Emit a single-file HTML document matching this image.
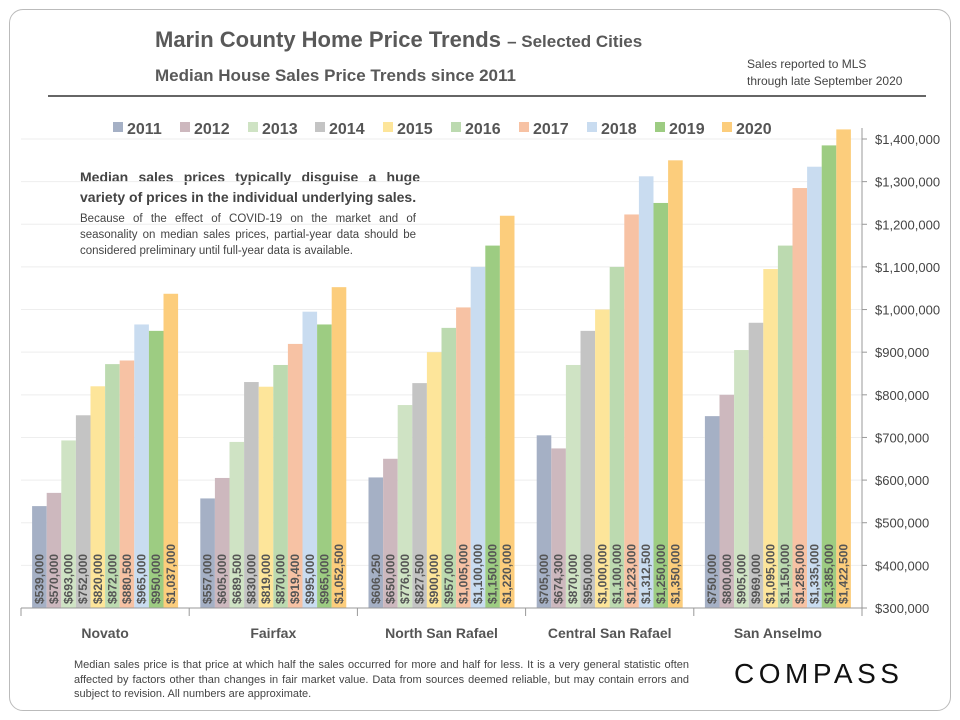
<!DOCTYPE html>
<html><head><meta charset="utf-8"><style>
body{margin:0;background:#fff;font-family:"Liberation Sans",sans-serif}
#frame{position:absolute;left:9px;top:9px;width:940px;height:700px;border:1px solid #bbb;border-radius:14px}
.t{position:absolute;color:#555;white-space:nowrap}
</style></head><body>
<div id="frame"></div>
<div class="t" style="left:155px;top:27px;font-size:22px;font-weight:bold;color:#595959">Marin County Home Price Trends <span style="font-size:17px">– Selected Cities</span></div>
<div class="t" style="left:155px;top:66px;font-size:17px;font-weight:bold;color:#595959">Median House Sales Price Trends since 2011</div>
<div class="t" style="left:747px;top:56px;font-size:12px;line-height:17px;color:#444">Sales reported to MLS<br>through late September 2020</div>
<div style="position:absolute;left:48px;top:95px;width:878px;height:2px;background:#666"></div>
<div class="t" style="left:80px;top:167px;font-size:14px;font-weight:bold;line-height:20px;color:#444;white-space:normal;width:340px;text-align:justify">Median sales prices typically disguise a huge variety of prices in the individual underlying sales.</div>
<div class="t" style="left:80px;top:211px;font-size:11.5px;line-height:16px;color:#444;white-space:normal;width:336px;text-align:justify">Because of the effect of COVID-19 on the market and of seasonality on median sales prices, partial-year data should be considered preliminary until full-year data is available.</div>
<div class="t" style="left:74px;top:658px;font-size:11px;line-height:14.5px;color:#444;white-space:normal;width:615px;text-align:justify">Median sales price is that price at which half the sales occurred for more and half for less. It is a very general statistic often affected by factors other than changes in fair market value. Data from sources deemed reliable, but may contain errors and subject to revision. All numbers are approximate.</div>
<div class="t" style="left:734px;top:658px;font-size:28px;letter-spacing:4.5px;color:#111">COMPASS</div>
<svg id="chart" width="960" height="720" style="position:absolute;left:0;top:0"></svg>
<script>
const cities=["Novato","Fairfax","North San Rafael","Central San Rafael","San Anselmo"];
const years=["2011","2012","2013","2014","2015","2016","2017","2018","2019","2020"];
const novato=[539000,570000,693000,752000,820000,872000,880500,965000,950000,1037000];
const fairfax=[557000,605000,689500,830000,819000,870000,919400,995000,965000,1052500];
const northSanRafael=[606250,650000,776000,827500,900000,957000,1005000,1100000,1150000,1220000];
const centralSanRafael=[705000,674300,870000,950000,1000000,1100000,1223000,1312500,1250000,1350000];
const sanAnselmo=[750000,800000,905000,969000,1095000,1150000,1285000,1335000,1385000,1422500];
const series=[novato,fairfax,northSanRafael,centralSanRafael,sanAnselmo];
const ticks=[300000,400000,500000,600000,700000,800000,900000,1000000,1100000,1200000,1300000,1400000];
const colors=["#a5b0c5","#cdb8be","#cfe3c4","#c4c4c4","#fde59a","#bcdab0","#f7c2a4","#c9dcf0","#9dcc82","#fccd7c"];
const NS="http://www.w3.org/2000/svg";
const svg=document.getElementById("chart");
const x0=21,x1=862,y0=608,yTop=139;
const yMin=300000,yMax=1400000;
const y=v=>y0-(v-yMin)/(yMax-yMin)*(y0-yTop);
const gw=(x1-x0)/cities.length, bw=14.6;
function mk(tag,attrs){const e=document.createElementNS(NS,tag);for(const k in attrs)e.setAttribute(k,attrs[k]);svg.appendChild(e);return e;}
const fmt=v=>"$"+v.toLocaleString("en-US");
ticks.forEach(t=>{
 const g=mk("line",{x1:x0,x2:x1,y1:y(t),y2:y(t),stroke:"#eee","stroke-width":1});
 
 
 const tk=mk("line",{x1:x1,x2:x1+5,y1:y(t),y2:y(t),stroke:"#999"});
 
 
 const lb=mk("text",{x:875,y:y(t)+5,"font-size":"13","fill":"#444","font-family":"Liberation Sans"});
 lb.textContent=fmt(t);
 
 
});
series.forEach((vals,ci)=>{
 const gx=x0+ci*gw+(gw-bw*vals.length)/2;
 vals.forEach((v,yi)=>{
  const bx=gx+yi*bw;
  const r=mk("rect",{x:bx,y:y(v),width:bw,height:y0-y(v),fill:colors[yi]});
  
  
  const tx=mk("text",{x:0,y:0,transform:`translate(${bx+bw/2+4},${y0-4}) rotate(-90)`,"font-size":"12","font-weight":"bold","fill":"#555","font-family":"Liberation Sans"});
  tx.textContent=fmt(v);
  
  
 });
 const cl=mk("text",{x:x0+ci*gw+gw/2,y:638,"text-anchor":"middle","font-size":"14","font-weight":"bold","fill":"#555","font-family":"Liberation Sans"});
 cl.textContent=cities[ci];
 
 
});
for(let i=0;i<=cities.length;i++){
 const sx=x0+i*gw;
 const s=mk("line",{x1:sx,x2:sx,y1:y0,y2:y0+8,stroke:"#999"});
 
 
}
const xa=mk("line",{x1:x0,x2:x1,y1:y0,y2:y0,stroke:"#999"});


const ya=mk("line",{x1:x1,x2:x1,y1:128,y2:y0,stroke:"#999"});


const legX=[113,180,248,315,383,451,519,587,655,722];
years.forEach((yr,i)=>{
 const sq=mk("rect",{x:legX[i],y:122,width:10,height:10,fill:colors[i]});
 
 
 const lt=mk("text",{x:legX[i]+14,y:134,"font-size":"16","font-weight":"bold","fill":"#555","font-family":"Liberation Sans"});
 lt.textContent=yr;
 
 
});
</script>
</body></html>
